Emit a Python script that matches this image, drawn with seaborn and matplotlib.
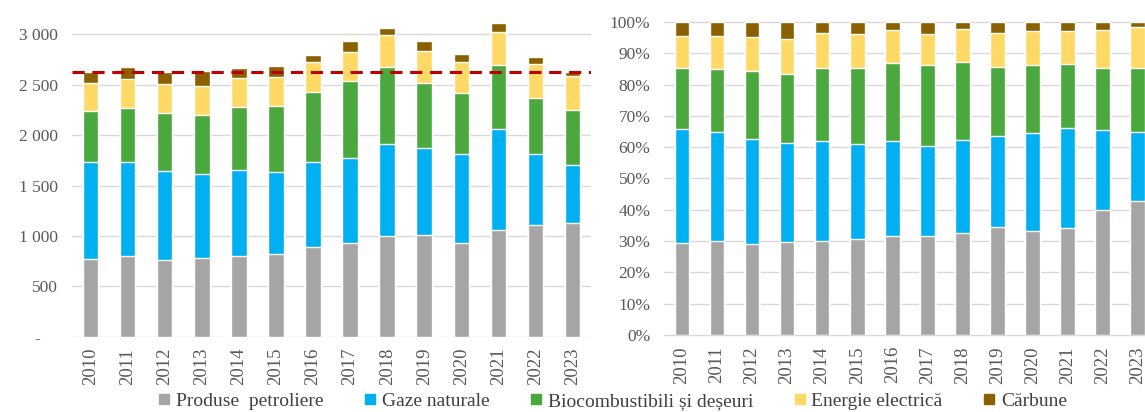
import numpy as np
import pandas as pd
import matplotlib.pyplot as plt
import seaborn as sns
from matplotlib.lines import Line2D

years = [str(y) for y in range(2010, 2024)]
petroliere = [770, 800, 761, 780, 797, 823, 886, 929, 995, 1009, 933, 1058, 1108, 1124]
gaze = [963, 933, 882, 837, 853, 814, 843, 843, 916, 859, 879, 999, 707, 582]
bio = [509, 539, 576, 579, 625, 651, 698, 761, 764, 649, 609, 638, 549, 539]
energie = [271, 281, 288, 294, 294, 291, 294, 294, 314, 314, 300, 324, 338, 338]
carbune = [116, 119, 122, 146, 96, 106, 73, 110, 73, 106, 83, 89, 69, 46]
ref_level = 2626

labels = ["Produse  petroliere", "Gaze naturale", "Biocombustibili și deșeuri",
          "Energie electrică", "Cărbune"]
colors = ["#A5A5A5", "#00B0F0", "#4AA83E", "#FFD966", "#8B6000"]

sns.set_style("white")
plt.rcParams['font.family'] = ['Liberation Serif', 'DejaVu Serif']

df = pd.DataFrame({"year": years, labels[0]: petroliere, labels[1]: gaze,
                   labels[2]: bio, labels[3]: energie, labels[4]: carbune}).set_index("year")
cum = df.cumsum(axis=1)
pct = cum.div(df.sum(axis=1), axis=0)

fig = plt.figure(figsize=(11.45, 4.12), dpi=100)
ax1 = fig.add_axes([0.0629, 0.1828, 0.4533, 0.8073])
ax2 = fig.add_axes([0.5803, 0.1869, 0.4284, 0.7597])

grid_c = "#D9D9D9"
txt_c = "#595959"

for ax, data in [(ax1, cum), (ax2, pct)]:
    for lab, c in reversed(list(zip(labels, colors))):
        sns.barplot(x=data.index, y=data[lab].values, color=c, width=0.42,
                    saturation=1, errorbar=None, ax=ax, zorder=2)
    ax.set_xlim(-0.5, len(years) - 0.5)
    ax.set_xlabel("")
    ax.set_ylabel("")
    for s in ax.spines.values():
        s.set_visible(False)
    ax.tick_params(axis='x', labelrotation=90, length=0, labelsize=13.5,
                   labelcolor=txt_c, pad=8)
    ax.tick_params(axis='y', length=0, labelsize=12.5, labelcolor=txt_c, pad=10)

# left: absolute values
ax1.set_ylim(0, 3300)
yt = [0, 500, 1000, 1500, 2000, 2500, 3000]
ax1.set_yticks(yt)
ax1.set_yticklabels(["-    "] + [f"{v:,}".replace(",", " ") for v in yt[1:]])
for v in yt:
    ax1.axhline(v, color=grid_c, lw=1, zorder=1)
ax1.axhline(ref_level, color="#C00000", lw=2.2, ls=(0, (4, 2.5)), zorder=3)

# right: shares
ax2.set_ylim(0, 1)
pt = np.arange(0, 1.01, 0.1)
ax2.set_yticks(pt)
ax2.set_yticklabels([f"{int(round(v * 100))}%" for v in pt])
for v in pt:
    ax2.axhline(v, color=grid_c, lw=1, zorder=1, clip_on=False)

handles = [Line2D([], [], marker="s", ls="none", markersize=6.5, color=c) for c in colors]
fig.legend(handles, labels, loc="center", bbox_to_anchor=(0.535, 0.027), ncol=5,
           frameon=False, fontsize=14, handlelength=0.6, handletextpad=0.3,
           columnspacing=2.1, labelcolor="#404040")

fig.savefig("out.png", dpi=100)
